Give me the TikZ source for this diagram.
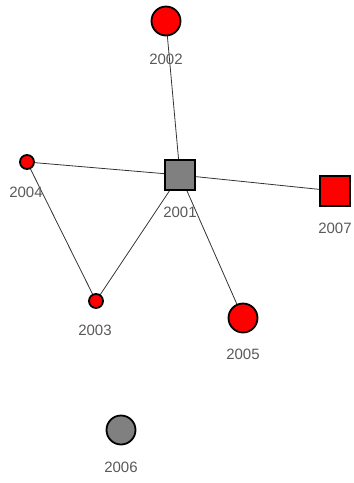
\documentclass[tikz,border=0pt]{standalone}
\usepackage{fontspec}
\setmainfont{Liberation Sans}
\begin{document}
\begin{tikzpicture}[x=1pt,y=-1pt,
  vtx/.style={draw=black,line width=1.8pt,inner sep=0pt,outer sep=0pt},
  bigc/.style={vtx,circle,minimum size=29pt},
  smallc/.style={vtx,circle,minimum size=14pt},
  sq/.style={vtx,rectangle,minimum size=30pt},
  lbl/.style={inner sep=0pt,text=black!65,font=\fontsize{15}{15}\selectfont},
  edge/.style={draw=black!80,line width=0.8pt}]
\useasboundingbox (0,0) rectangle (354,483);
\coordinate (c2001) at (180,175);
\coordinate (c2002) at (166,21);
\coordinate (c2007) at (335,191);
\coordinate (c2004) at (27,162);
\coordinate (c2003) at (96,301);
\coordinate (c2005) at (243,318);
\coordinate (c2006) at (121,430);
\draw[edge] (c2001) -- (c2002);
\draw[edge] (c2001) -- (c2004);
\draw[edge] (c2001) -- (c2007);
\draw[edge] (c2001) -- (c2003);
\draw[edge] (c2001) -- (c2005);
\draw[edge] (c2004) -- (c2003);
\node[sq,fill=black!50] (n2001) at (c2001) {};
\node[bigc,fill=red] (n2002) at (c2002) {};
\node[sq,fill=red] (n2007) at (c2007) {};
\node[smallc,fill=red] (n2004) at (c2004) {};
\node[smallc,fill=red] (n2003) at (c2003) {};
\node[bigc,fill=red] (n2005) at (c2005) {};
\node[bigc,fill=black!50] (n2006) at (c2006) {};
\node[lbl] (l2001) at (180,212) {2001};
\node[lbl] (l2002) at (166,59) {2002};
\node[lbl] (l2007) at (335,228) {2007};
\node[lbl] (l2004) at (26,192) {2004};
\node[lbl] (l2003) at (95,330) {2003};
\node[lbl] (l2005) at (243,354) {2005};
\node[lbl] (l2006) at (121,467) {2006};
\end{tikzpicture}
\end{document}
